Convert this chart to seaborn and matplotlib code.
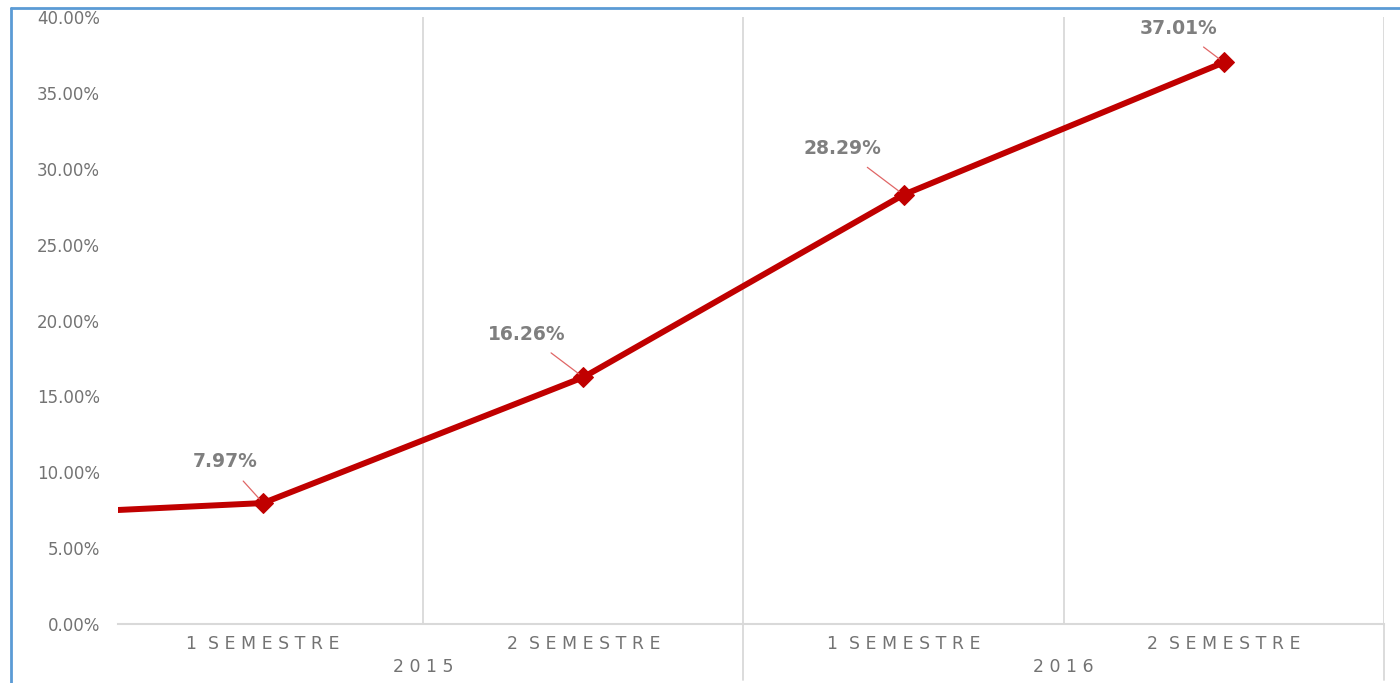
import matplotlib
matplotlib.use("Agg")
import matplotlib.pyplot as plt
import matplotlib.transforms as mtransforms
from matplotlib.lines import Line2D
from matplotlib.ticker import PercentFormatter, MultipleLocator
import numpy as np
import pandas as pd
import seaborn as sns

# data (the first point sits left of the visible area)
years = ["2014", "2015", "2015", "2016", "2016"]
semesters = ["2 SEMESTRE", "1 SEMESTRE", "2 SEMESTRE", "1 SEMESTRE", "2 SEMESTRE"]
values = [6.96, 7.97, 16.26, 28.29, 37.01]
show_label = [False, True, True, True, True]

# label placement (pixels from the point), as Excel laid them out
label_offsets = [(0, 0), (-38, 42), (-57, 43), (-61, 46), (-45, 34)]

RED = "#C00000"
GREY_TEXT = "#737373"
GRID = "#D9D9D9"


def spaced(text: str) -> str:
    return " ".join(text).replace("1   ", "1  ").replace("2   ", "2  ")


df = pd.DataFrame({"year": years, "semester": semesters, "value": values})
df["pos"] = np.arange(len(df)) - 1

sns.set_style("white")
plt.rcParams["font.family"] = ["DejaVu Sans"]

fig = plt.figure(figsize=(14, 6.83), dpi=100)
ax = fig.add_axes([118 / 1400, 1 - 624 / 683, (1384 - 118) / 1400, (624 - 17) / 683])

sns.lineplot(data=df, x="pos", y="value", color=RED, linewidth=4.3, ax=ax,
             marker="D", markersize=10, markeredgecolor=RED, markerfacecolor=RED)

ax.set_xlim(-0.5 + 15 / 320, df["pos"].max() + 0.5)
ax.set_ylim(0, 40)
ax.yaxis.set_major_locator(MultipleLocator(5))
ax.yaxis.set_major_formatter(PercentFormatter(decimals=2))
ax.tick_params(axis="y", length=0, pad=13, labelsize=12, labelcolor=GREY_TEXT)

visible = df[df["pos"] >= 0]
ax.set_xticks(visible["pos"])
ax.set_xticklabels([spaced(s) for s in visible["semester"]])
ax.tick_params(axis="x", length=0, pad=8, labelsize=12.5, labelcolor=GREY_TEXT)
ax.set_xlabel("")
ax.set_ylabel("")

for side in ["left", "right", "top"]:
    ax.spines[side].set_visible(False)
ax.spines["bottom"].set_color(GRID)
ax.spines["bottom"].set_linewidth(1.5)

# category separators; group separators reach down through the labels
bounds = visible["pos"].to_numpy() + 0.5
for b in bounds:
    ax.axvline(b, color=GRID, linewidth=1.3, zorder=0)
trans = mtransforms.blended_transform_factory(ax.transData, ax.transAxes)
groups = visible.groupby("year")["pos"]
for year, pos in groups:
    ax.plot([pos.max() + 0.5] * 2, [0, -0.092], color=GRID, linewidth=1.3,
            transform=trans, clip_on=False)
    ax.text(pos.mean(), -0.071, spaced(year), transform=trans, ha="center",
            va="center", fontsize=12.5, color=GREY_TEXT)

# data labels with leader lines
for (_, row), show, (dx, dy) in zip(df.iterrows(), show_label, label_offsets):
    if not show:
        continue
    ax.annotate(f"{row['value']:.2f}%", xy=(row["pos"], row["value"]),
                xytext=(dx * 0.72, dy * 0.72), textcoords="offset points",
                ha="center", va="center", fontsize=13.5, fontweight="bold",
                color="#7F7F7F",
                arrowprops=dict(arrowstyle="-", color="#E06666", lw=0.9,
                                shrinkA=7, shrinkB=4))

# chart frame edges
fig.add_artist(Line2D([11 / 1400, 11 / 1400], [0, 1 - 8 / 683], color="#5B9BD5",
                      linewidth=2, transform=fig.transFigure))
fig.add_artist(Line2D([11 / 1400, 1], [1 - 8 / 683, 1 - 8 / 683], color="#5B9BD5",
                      linewidth=2, transform=fig.transFigure))

fig.savefig("out.png", dpi=100)
